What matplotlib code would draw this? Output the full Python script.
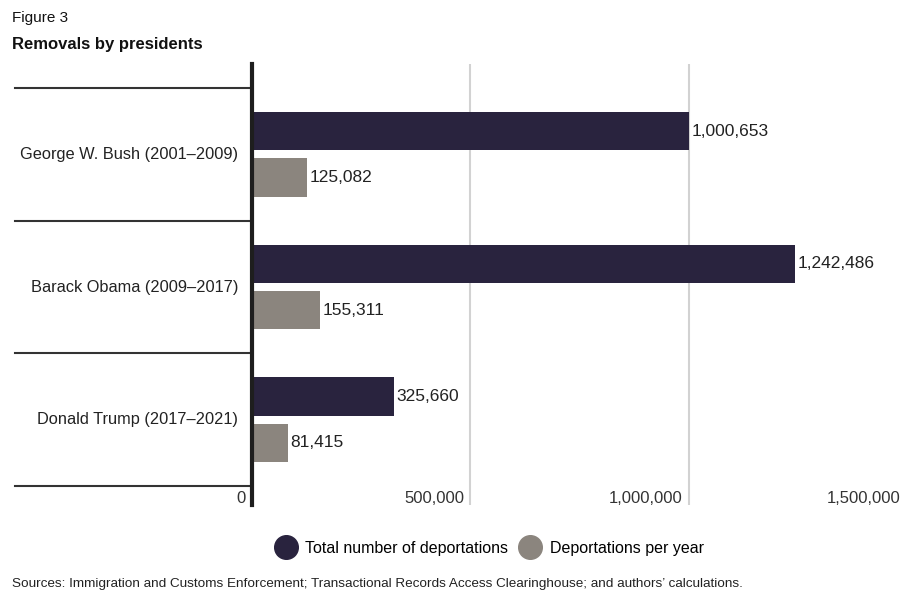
import matplotlib.pyplot as plt
from matplotlib.lines import Line2D
from matplotlib.transforms import offset_copy

presidents = ["George W. Bush (2001\u20132009)",
              "Barack Obama (2009\u20132017)",
              "Donald Trump (2017\u20132021)"]
total_removals = [1000653, 1242486, 325660]
removals_per_year = [125082, 155311, 81415]
x_ticks = [0, 500000, 1000000, 1500000]
x_tick_labels = ["0", "500,000", "1,000,000", "1,500,000"]

DARK = "#29233e"
GRAY = "#8b857e"
FONT = "Liberation Sans"

plt.rcParams["font.family"] = FONT

fig = plt.figure(figsize=(9.04, 5.91), dpi=100)
ax = fig.add_axes([252 / 904, 86 / 591, 655 / 904, 441 / 591])

ypos = list(range(len(presidents)))
bar_h = 0.288
off = 0.174
ax.barh([y - off for y in ypos], total_removals, height=bar_h, color=DARK, zorder=3)
ax.barh([y + off for y in ypos], removals_per_year, height=bar_h, color=GRAY, zorder=3)

# value labels just past the bar ends
for y, v in zip(ypos, total_removals):
    ax.text(v + 6000, y - off, f"{v:,}", va="center", ha="left", fontsize=12.5, color="#222")
for y, v in zip(ypos, removals_per_year):
    ax.text(v + 6000, y + off, f"{v:,}", va="center", ha="left", fontsize=12.5, color="#222")

ax.set_xlim(0, 1500000)
ax.set_ylim(2.5 + 19 / 132, -0.5 - 24 / 132)

# vertical grid at the tick values
for t in x_ticks[1:]:
    ax.axvline(t, color="#d2d2d2", linewidth=1.5, zorder=1)

# category separators reaching out into the label column
for b in [-0.5, 0.5, 1.5, 2.5]:
    ax.plot([-0.362, 0], [b, b], transform=ax.get_yaxis_transform(),
            color="#333333", linewidth=1.5, clip_on=False, zorder=4)

# category labels
lab_tr = offset_copy(ax.get_yaxis_transform(), fig=fig, x=-14, y=0, units="dots")
for y, name in zip(ypos, presidents):
    ax.text(0, y, name, transform=lab_tr, ha="right", va="center", fontsize=11.8, color="#222")

# tick labels sit inside the bottom strip, right-aligned to each gridline
tick_tr = offset_copy(ax.transData, fig=fig, x=-6, y=-2, units="dots")
for t, lab in zip(x_ticks, x_tick_labels):
    ax.text(t, 2.5 + 11 / 132, lab, transform=tick_tr, ha="right", va="center",
            fontsize=12, color="#333")

ax.set_xticks([])
ax.set_yticks([])
for s in ["top", "right", "bottom"]:
    ax.spines[s].set_visible(False)
ax.spines["left"].set_linewidth(3)
ax.spines["left"].set_color("#1e1e1e")
ax.spines["left"].set_zorder(5)

fig.text(12 / 904, 1 - 18 / 591, "Figure 3", fontsize=11, va="center", ha="left", color="#111")
fig.text(12 / 904, 1 - 44 / 591, "Removals by presidents", fontsize=12, fontweight="bold",
         va="center", ha="left", color="#111")

handles = [Line2D([], [], linestyle="none", marker="o", markersize=17, color=DARK),
           Line2D([], [], linestyle="none", marker="o", markersize=17, color=GRAY)]
fig.legend(handles, ["Total number of deportations", "Deportations per year"],
           loc="center", bbox_to_anchor=(490 / 904, 1 - 548 / 591), ncol=2, frameon=False,
           fontsize=11.5, handletextpad=0.6, columnspacing=0.8, handlelength=1.2)

fig.text(12 / 904, 1 - 584 / 591,
         "Sources: Immigration and Customs Enforcement; Transactional Records Access "
         "Clearinghouse; and authors\u2019 calculations.",
         fontsize=9.7, va="center", ha="left", color="#222")

fig.savefig("out.png", dpi=100)
